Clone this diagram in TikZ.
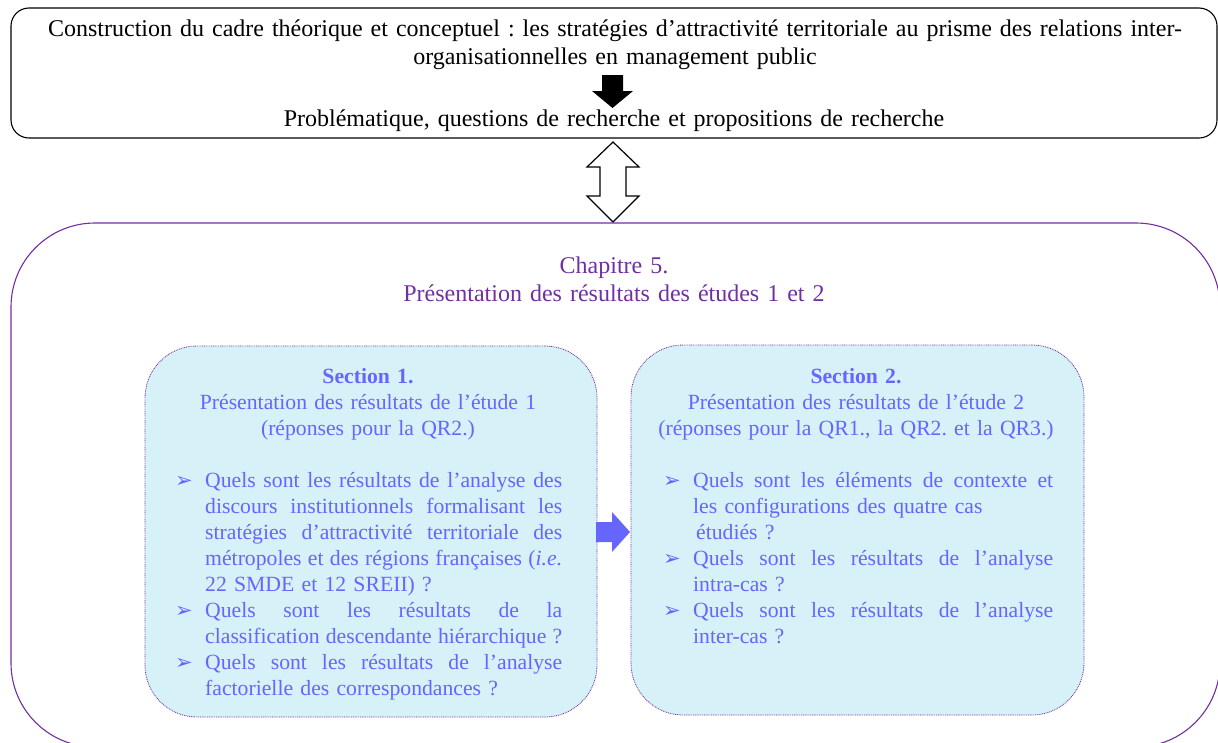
\documentclass[tikz,border=0pt]{standalone}
\usepackage{fontspec}
\setmainfont{Liberation Serif}
\newfontfamily\bulletfont{DejaVu Sans}
\definecolor{chapviolet}{HTML}{7030A0}
\definecolor{secblue}{HTML}{6666FF}
\definecolor{secfill}{HTML}{D6F1F8}
\frenchspacing
\newlength{\jlwidth}
\newcommand{\qb}{\leavevmode\llap{\makebox[30pt][l]{\fontsize{21}{21}\bulletfont ➢}}}
\newcommand{\jl}[1]{\makebox[\jlwidth][s]{\spaceskip=0.25em plus 3em minus 0.05em\relax #1}}
\tikzset{
  topframe/.style={draw=black, line width=1.1pt, rounded corners=18pt, inner sep=0pt, outer sep=0pt},
  chapframe/.style={draw=chapviolet, line width=1.1pt, rounded corners=84pt, inner sep=0pt, outer sep=0pt},
  secbox/.style={draw=chapviolet, fill=secfill, line width=0.8pt, dash pattern=on 0.9pt off 0.9pt, rounded corners=52pt, inner sep=0pt, outer sep=0pt},
  toptext/.style={font=\fontsize{24}{28}\selectfont, text width=1200pt, align=center, inner sep=0pt},
  chaptext/.style={font=\fontsize{24}{28}\selectfont, text=chapviolet, text width=700pt, align=center, inner sep=0pt},
  headtext/.style={font=\fontsize{21.7}{26}\selectfont, text=secblue, text width=450pt, align=center, inner sep=0pt},
  listtext/.style={font=\fontsize{21.7}{26}\selectfont, text=secblue, align=left, inner sep=0pt},
  hollowarrow/.style={draw=black, fill=white, line width=1.2pt, line join=miter},
}
\begin{document}
\begin{tikzpicture}[x=1pt, y=-1pt]
\useasboundingbox (0,0) rectangle (1218,742);
\clip (0,0) rectangle (1218,742);

% top frame
\node[topframe, minimum width=1206pt, minimum height=130pt] (topbox) at (614,73) {};
\node[toptext, anchor=base] (cadre) at (615,36) {Construction du cadre théorique et conceptuel : les stratégies d’attractivité territoriale au prisme des relations inter-\\organisationnelles en management public};
\node[toptext, anchor=base] (probl) at (614,126) {Problématique, questions de recherche et propositions de recherche};
\fill[black] (602,75) -- (623,75) -- (623,91) -- (633,91) -- (612.5,108) -- (592,91) -- (602,91) -- cycle;

% double hollow arrow
\draw[hollowarrow] (613,142) -- (639,167) -- (626,167) -- (626,196) -- (639,196) -- (613,222) -- (587,196) -- (600,196) -- (600,167) -- (587,167) -- cycle;

% chapter frame
\node[chapframe, minimum width=1209pt, minimum height=524pt] (chapbox) at (615.5,485) {};
\node[chaptext, anchor=base] (chaptitle) at (614,273) {Chapitre 5.\\Présentation des résultats des études 1 et 2};

% section boxes
\node[secbox, minimum width=452pt, minimum height=371pt] (s1box) at (371,531.5) {};
\node[secbox, minimum width=453pt, minimum height=370pt] (s2box) at (857.5,530) {};

% arrow between sections
\fill[secblue] (596,522) -- (612,522) -- (612,512) -- (630,532) -- (612,552) -- (612,542) -- (596,542) -- cycle;

% section 1 text
\node[headtext, anchor=base] (s1head) at (368,383) {\textbf{Section 1.}\\Présentation des résultats de l’étude 1\\(réponses pour la QR2.)};
\node[listtext, text width=357pt, anchor=base west] (s1list) at (205,487) {%
\setlength{\jlwidth}{357pt}%
\qb\jl{Quels sont les résultats de l’analyse des}\\
\jl{discours institutionnels formalisant les}\\
\jl{stratégies d’attractivité territoriale des}\\
\jl{métropoles et des régions françaises (\textit{i.e.}}\\
22 SMDE et 12 SREII) ?\\
\qb\jl{Quels sont les résultats de la}\\
\jl{classification descendante hiérarchique ?}\\
\qb\jl{Quels sont les résultats de l’analyse}\\
factorielle des correspondances ?};

% section 2 text
\node[headtext, anchor=base] (s2head) at (856,383) {\textbf{Section 2.}\\Présentation des résultats de l’étude 2\\(réponses pour la QR1., la QR2. et la QR3.)};
\node[listtext, text width=360pt, anchor=base west] (s2list) at (693,487) {%
\setlength{\jlwidth}{360pt}%
\qb\jl{Quels sont les éléments de contexte et}\\
les configurations des quatre cas\\
\hspace*{3pt}étudiés ?\\
\qb\jl{Quels sont les résultats de l’analyse}\\
intra-cas ?\\
\qb\jl{Quels sont les résultats de l’analyse}\\
inter-cas ?};
\end{tikzpicture}
\end{document}
